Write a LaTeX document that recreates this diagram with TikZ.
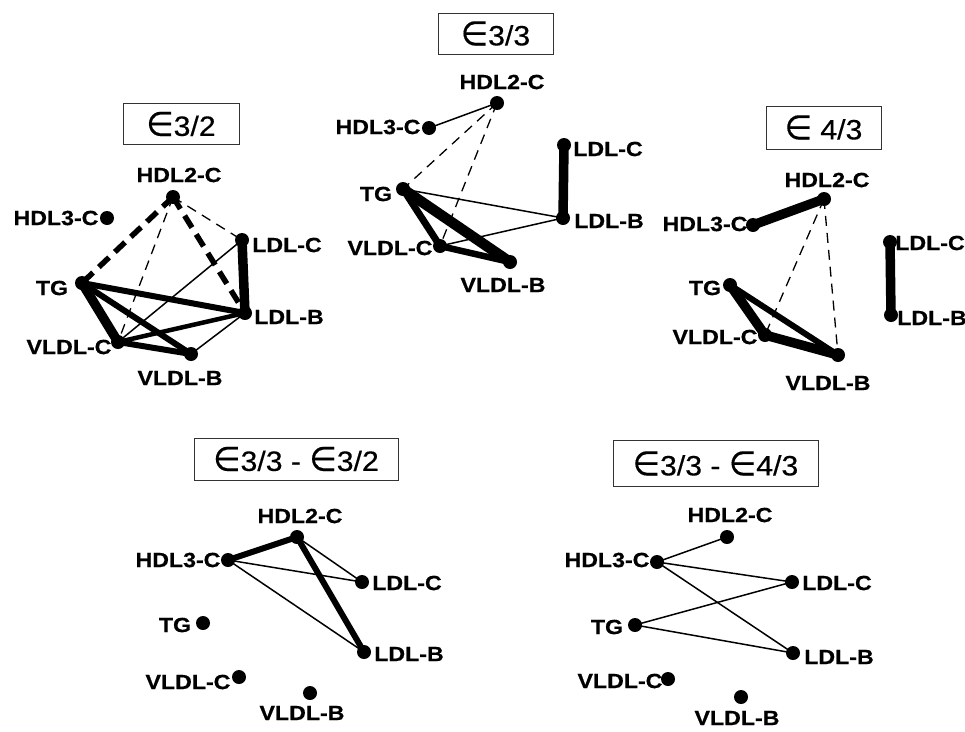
\documentclass[tikz,border=0pt]{standalone}
\usepackage{fontspec}
\newfontfamily\labfont{Liberation Sans Bold}[FakeStretch=1.13,FakeBold=0.6]
\newfontfamily\titfont{Liberation Sans}[FakeStretch=1.08,FakeBold=0.4]
\newfontfamily\symfont{DejaVu Sans}[FakeBold=0.4]
\newcommand{\eps}{\raisebox{0.2pt}{\scalebox{1.12}[1.2]{\symfont ∈}}}
\begin{document}
\begin{tikzpicture}[x=1pt,y=-1pt,
  dot/.style={circle,fill=black,inner sep=0pt,minimum size=14pt},
  lab/.style={inner sep=0pt,font=\labfont\fontsize{20.5}{20.5}\selectfont},
  ttl/.style={draw=black!80,line width=0.9pt,inner sep=0pt,font=\titfont\fontsize{28}{28}\selectfont},
  wA/.style={line width=1.5pt,line cap=round},
  wB/.style={line width=4.5pt,line cap=round},
  wC/.style={line width=6pt,line cap=round},
  wD/.style={line width=9.5pt,line cap=round},
  dA/.style={line width=1.3pt,dash pattern=on 10pt off 7pt},
  dC/.style={line width=5.5pt,dash pattern=on 14pt off 8pt}]
\useasboundingbox (0,0) rectangle (965,731);

% ---------------- panel e3/2
\node[ttl,minimum width=116pt,minimum height=41pt] (ta) at (181,124) {\eps3/2};
\node[dot] (aH2) at (173,197) {};
\node[dot] (aH3) at (107,218) {};
\node[dot] (aLC) at (242,240) {};
\node[dot] (aLB) at (245,313) {};
\node[dot] (aTG) at (82,283) {};
\node[dot] (aVC) at (118,342) {};
\node[dot] (aVB) at (191,354) {};
\node[lab] (laH2) at (179,175) {HDL2-C};
\node[lab] (laH3) at (56,218) {HDL3-C};
\node[lab] (laLC) at (287,245) {LDL-C};
\node[lab] (laLB) at (289,317) {LDL-B};
\node[lab] (laTG) at (52,288) {TG};
\node[lab] (laVC) at (69,347) {VLDL-C};
\node[lab] (laVB) at (180,378) {VLDL-B};
\draw[dC] (aH2.center) -- (aTG.center);
\draw[dC] (aH2.center) -- (aLB.center);
\draw[dA] (aH2.center) -- (aVC.center);
\draw[dA] (aH2.center) -- (aLC.center);
\draw[wD] (aLC.center) -- (aLB.center);
\draw[wC] (aTG.center) -- (aLB.center);
\draw[wD] (aTG.center) -- (aVC.center);
\draw[wC] (aTG.center) -- (aVB.center);
\draw[wB] (aVC.center) -- (aLB.center);
\draw[wA] (aVC.center) -- (aLC.center);
\draw[wC] (aVC.center) -- (aVB.center);
\draw[wA] (aVB.center) -- (aLB.center);

% ---------------- panel e3/3
\node[ttl,minimum width=115pt,minimum height=41pt] (tb) at (495.5,33.5) {\eps3/3};
\node[dot] (bH2) at (497,103) {};
\node[dot] (bH3) at (429,128) {};
\node[dot] (bLC) at (564,145) {};
\node[dot] (bLB) at (563,218) {};
\node[dot] (bTG) at (403,189) {};
\node[dot] (bVC) at (440,246) {};
\node[dot] (bVB) at (510,262) {};
\node[lab] (lbH2) at (502,82) {HDL2-C};
\node[lab] (lbH3) at (378,127) {HDL3-C};
\node[lab] (lbLC) at (608,149) {LDL-C};
\node[lab] (lbLB) at (609,221) {LDL-B};
\node[lab] (lbTG) at (376,194) {TG};
\node[lab] (lbVC) at (390,248) {VLDL-C};
\node[lab] (lbVB) at (503,285) {VLDL-B};
\draw[wA] (bH3.center) -- (bH2.center);
\draw[dA] (bH2.center) -- (bTG.center);
\draw[dA] (bH2.center) -- (bVC.center);
\draw[wD] (bLC.center) -- (bLB.center);
\draw[wA] (bTG.center) -- (bLB.center);
\draw[wA] (bVC.center) -- (bLB.center);
\draw[line width=7pt,line cap=round] (bTG.center) -- (bVC.center);
\draw[line width=10.5pt,line cap=round] (bTG.center) -- (bVB.center);
\draw[line width=6.5pt,line cap=round] (bVC.center) -- (bVB.center);

% ---------------- panel e4/3
\node[ttl,minimum width=115pt,minimum height=43pt] (tc) at (823.5,127.5) {\eps\ 4/3};
\node[dot] (cH2) at (824,199) {};
\node[dot] (cH3) at (753,225) {};
\node[dot] (cLC) at (890,242) {};
\node[dot] (cLB) at (891,315) {};
\node[dot] (cTG) at (730,285) {};
\node[dot] (cVC) at (765,335) {};
\node[dot] (cVB) at (838,355) {};
\node[lab] (lcH2) at (827,180) {HDL2-C};
\node[lab] (lcH3) at (705,224) {HDL3-C};
\node[lab] (lcLC) at (930,243) {LDL-C};
\node[lab] (lcLB) at (932,318) {LDL-B};
\node[lab] (lcTG) at (705,288) {TG};
\node[lab] (lcVC) at (715,337) {VLDL-C};
\node[lab] (lcVB) at (828,383) {VLDL-B};
\draw[wD] (cH3.center) -- (cH2.center);
\draw[dA] (cH2.center) -- (cVC.center);
\draw[dA] (cH2.center) -- (cVB.center);
\draw[wD] (cLC.center) -- (cLB.center);
\draw[wD] (cTG.center) -- (cVC.center);
\draw[wC] (cTG.center) -- (cVB.center);
\draw[wD] (cVC.center) -- (cVB.center);

% ---------------- panel e3/3 - e3/2
\node[ttl,minimum width=204pt,minimum height=42pt] (td) at (296,459) {\eps3/3 - \eps3/2};
\node[dot] (dH2) at (297,537) {};
\node[dot] (dH3) at (228,560) {};
\node[dot] (dLC) at (362,582) {};
\node[dot] (dLB) at (364,652) {};
\node[dot] (dTG) at (203,623) {};
\node[dot] (dVC) at (239,677) {};
\node[dot] (dVB) at (310,693) {};
\node[lab] (ldH2) at (300,516) {HDL2-C};
\node[lab] (ldH3) at (178,560) {HDL3-C};
\node[lab] (ldLC) at (407,583) {LDL-C};
\node[lab] (ldLB) at (409,654) {LDL-B};
\node[lab] (ldTG) at (175,625) {TG};
\node[lab] (ldVC) at (188,682) {VLDL-C};
\node[lab] (ldVB) at (302,713) {VLDL-B};
\draw[wC] (dH3.center) -- (dH2.center);
\draw[wC] (dH2.center) -- (dLB.center);
\draw[wA] (dH2.center) -- (dLC.center);
\draw[wA] (dH3.center) -- (dLC.center);
\draw[wA] (dH3.center) -- (dLB.center);

% ---------------- panel e3/3 - e4/3
\node[ttl,minimum width=205pt,minimum height=46pt] (te) at (715.5,463.5) {\eps3/3 - \eps4/3};
\node[dot] (eH2) at (727,537) {};
\node[dot] (eH3) at (657,562) {};
\node[dot] (eLC) at (792,582) {};
\node[dot] (eLB) at (793,653) {};
\node[dot] (eTG) at (635,625) {};
\node[dot] (eVC) at (668,679) {};
\node[dot] (eVB) at (741,697) {};
\node[lab] (leH2) at (730,515) {HDL2-C};
\node[lab] (leH3) at (607,560) {HDL3-C};
\node[lab] (leLC) at (837,583) {LDL-C};
\node[lab] (leLB) at (839,657) {LDL-B};
\node[lab] (leTG) at (607,627) {TG};
\node[lab] (leVC) at (620,681) {VLDL-C};
\node[lab] (leVB) at (737,718) {VLDL-B};
\draw[wA] (eH3.center) -- (eH2.center);
\draw[wA] (eH3.center) -- (eLC.center);
\draw[wA] (eH3.center) -- (eLB.center);
\draw[wA] (eTG.center) -- (eLC.center);
\draw[wA] (eTG.center) -- (eLB.center);
\end{tikzpicture}
\end{document}
